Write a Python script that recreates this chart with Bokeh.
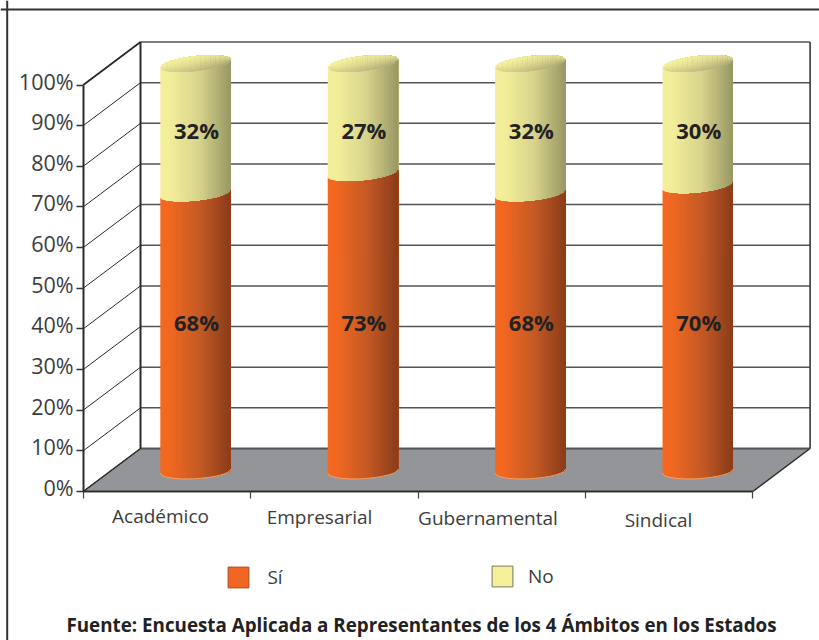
from bokeh.plotting import figure
from bokeh.models import (ColumnDataSource, Range1d, FixedTicker, Legend, LegendItem, Span)
from bokeh.core.properties import value
from bokeh.embed import file_html
from bokeh.resources import INLINE
import numpy as np

# ---------- data ----------
categories = ["Académico", "Empresarial", "Gubernamental", "Sindical"]
si_values = [68, 73, 68, 70]
no_values = [32, 27, 32, 30]
y_ticks = [0, 10, 20, 30, 40, 50, 60, 70, 80, 90, 100]
y_tick_labels = ["0%", "10%", "20%", "30%", "40%", "50%", "60%", "70%", "80%", "90%", "100%"]
series_names = ["Sí", "No"]
source_text = "Fuente: Encuesta Aplicada a Representantes de los 4 Ámbitos en los Estados"

# ---------- scale: 1 category and 1 percent, in pixels of the page ----------
W, H = 819, 640
PX_CAT, PX_PCT = 167.4, 4.065
X0_PX, Y0_PX = 82.7, 491.0
def sx(px): return (px - X0_PX) / PX_CAT
def sy(px): return (Y0_PX - px) / PX_PCT

DEPTH_X, DEPTH_Y = 57.3 / PX_CAT, 43.0 / PX_PCT      # oblique depth of the box
BAR_DX, BAR_DY = 0.171, 5.0                         # cylinder foot inside the floor
HALF_W = 35.2 / PX_CAT                               # cylinder half width
MINOR = 7.5 / PX_PCT                                 # ellipse half height
FONT = "Open Sans"
INK = "#3c3c3c"

p = figure(width=W, height=H, output_backend="svg", toolbar_location=None,
           x_range=Range1d(sx(0), sx(W)), y_range=Range1d(sy(H), sy(0)),
           min_border=0, min_border_left=0, min_border_right=0, min_border_top=0,
           min_border_bottom=0, outline_line_color=None)
p.grid.visible = False

# outer frame (runs off the right and bottom of the picture)
p.add_layout(Span(location=sx(6.7), dimension="height", line_color="#333333", line_width=2))
p.add_layout(Span(location=sy(9.0), dimension="width", line_color="#333333", line_width=2))

# floor
n = len(categories)
p.patch([0, n, n + DEPTH_X, DEPTH_X], [0, 0, DEPTH_Y, DEPTH_Y],
        fill_color="#939598", line_color="#2b2b2b", line_width=1.5)

# back-wall grid
ticks = np.array(y_ticks, dtype=float)
p.segment(x0=[DEPTH_X] * len(ticks), y0=ticks + DEPTH_Y, x1=[n + DEPTH_X] * len(ticks), y1=ticks + DEPTH_Y,
          line_color="#555555", line_width=1.5)
# side-wall grid
p.segment(x0=[0] * len(ticks), y0=ticks, x1=[DEPTH_X] * len(ticks), y1=ticks + DEPTH_Y,
          line_color="#2b2b2b", line_width=1)
p.line([0, DEPTH_X], [100, 100 + DEPTH_Y], line_color="#2b2b2b", line_width=1.8)
# back-wall verticals
p.line([DEPTH_X, DEPTH_X], [DEPTH_Y, 100 + DEPTH_Y], line_color="#2b2b2b", line_width=2)
p.line([n + DEPTH_X, n + DEPTH_X], [DEPTH_Y, 100 + DEPTH_Y], line_color="#3a3a3a", line_width=1.6)


def mix(stops, f):
    xs = [s[0] for s in stops]
    c = [np.interp(f, xs, [int(s[1][i:i + 2], 16) for s in stops]) for i in (1, 3, 5)]
    return "#%02x%02x%02x" % tuple(int(round(v)) for v in c)

ORANGE = [(0, "#f4691f"), (0.12, "#f26822"), (0.55, "#c55a24"), (1, "#8a3c1a")]
YELLOW = [(0, "#f3ef9b"), (0.15, "#f1ed99"), (0.55, "#d8d48c"), (1, "#989763")]
TOP = [(0, "#a5a270"), (0.35, "#c6c284"), (0.7, "#e4e093"), (1, "#f4f09c")]

def tilt(v):
    return (2 + 2 * v / 100) / PX_PCT

def curve(cx, v, t, s):
    """Point of the sheared ellipse at height v; s=-1 front rim, s=+1 back rim."""
    return cx + t * HALF_W, BAR_DY + v * 1.003 + tilt(v) * t + s * MINOR * np.sqrt(np.clip(1 - t * t, 0, 1))

def body(cx, v0, v1, stops, out, strips=40):
    edges = np.linspace(-1, 1, strips + 1)
    for i in range(strips):
        t = np.linspace(edges[i], 1, max(strips - i, 1) * 2 + 1)
        xb, yb = curve(cx, v0, t, -1)
        xt, yt = curve(cx, v1, t[::-1], -1)
        out["xs"].append(list(xb) + list(xt))
        out["ys"].append(list(yb) + list(yt))
        out["c"].append(mix(stops, (i + 0.5) / strips))

def top(cx, v, out, strips=28, bands=9):
    edges = np.linspace(-1, 1, strips + 1)
    for i in range(strips):
        t = np.linspace(edges[i], 1, (strips - i) + 1)
        tm = (edges[i] + edges[i + 1]) / 2
        for s0 in np.linspace(-1, 1, bands, endpoint=False):
            xl, yl = curve(cx, v, t, s0)
            xu, yu = curve(cx, v, t[::-1], 1)
            out["xs"].append(list(xl) + list(xu))
            out["ys"].append(list(yl) + list(yu))
            shade = 0.62 + 0.38 * (s0 + (1 - s0) / bands) - 0.28 * tm
            out["c"].append(mix(TOP, float(np.clip(shade, 0, 1))))

parts = {"xs": [], "ys": [], "c": []}
centers = []
for i, (a, b) in enumerate(zip(si_values, no_values)):
    cx = i + 0.5 + BAR_DX
    centers.append(cx)
    body(cx, a, a + b, YELLOW, parts)
    body(cx, 0, a, ORANGE, parts)
    top(cx, a + b, parts)
p.patches("xs", "ys", fill_color="c", line_color=None, source=ColumnDataSource(parts))

# pale rim under each cylinder
t_rim = np.linspace(-1, 1, 41)
rx, ry = [], []
for cx in centers:
    x_, y_ = curve(cx, 0, t_rim, -1)
    rx.append(list(x_)); ry.append(list(y_))
p.multi_line(rx, ry, line_color="#f7a66a", line_width=1)

# value labels
p.text(x=centers, y=[sy(321)] * n, x_offset=1, text=[f"{v}%" for v in si_values], text_align="center",
       text_baseline="middle", text_font=value(FONT), text_font_style="bold",
       text_font_size="22px", text_color="#222222")
p.text(x=centers, y=[sy(129.5)] * n, x_offset=1, text=[f"{v}%" for v in no_values], text_align="center",
       text_baseline="middle", text_font=value(FONT), text_font_style="bold",
       text_font_size="22px", text_color="#222222")

# axes at the front edge of the box
ax = p.yaxis[0]
ax.fixed_location = 0
ax.bounds = (0, 100)
ax.ticker = FixedTicker(ticks=y_ticks)
ax.major_label_overrides = {v: "" for v in y_ticks}
ax.major_tick_out = 7
ax.major_tick_in = 0
ax.minor_tick_line_color = None
ax.major_tick_line_color = "#333333"
ax.major_tick_line_width = 1.5
ax.axis_line_color = "#2b2b2b"
ax.axis_line_width = 2

bx = p.xaxis[0]
bx.fixed_location = 0
bx.bounds = (0, n)
bx.ticker = FixedTicker(ticks=list(range(n + 1)))
bx.major_label_overrides = {i: "" for i in range(n + 1)}
bx.major_tick_out = 7
bx.major_tick_in = 0
bx.minor_tick_line_color = None
bx.major_tick_line_color = "#444444"
bx.major_tick_line_width = 1.2
bx.axis_line_color = "#2b2b2b"
bx.axis_line_width = 1.5

# y tick labels sit a little above their ticks in the reference
p.text(x=[sx(73)] * len(y_ticks), y=y_ticks, y_offset=-4, text=y_tick_labels, text_align="right",
       text_baseline="middle", text_font=value(FONT), text_font_size="21.5px", text_color=INK)

# category labels (as placed, slightly uneven, in the reference)
cat_x = [sx(160), sx(319), sx(487.5), sx(658)]
cat_y = [sy(515.5), sy(516.5), sy(517.5), sy(519.5)]
p.text(x=cat_x, y=cat_y, text=categories, text_align="center", text_baseline="middle",
       text_font=value(FONT), text_font_size="19px", text_color=INK)

# legend: two keys, each placed on its own
nan = float("nan")
sw_si = p.quad(left=[nan], right=[nan], top=[nan], bottom=[nan], fill_color="#f26522", line_color="#a84a20")
sw_no = p.quad(left=[nan], right=[nan], top=[nan], bottom=[nan], fill_color="#f3ef9b", line_color="#77775a")
common = dict(glyph_width=26, glyph_height=26, padding=10, margin=0, background_fill_alpha=0,
              border_line_color=None, label_text_font=FONT, label_text_font_size="19px",
              label_text_color=INK)
p.add_layout(Legend(items=[LegendItem(label=series_names[0], renderers=[sw_si])],
                    location=(225.4, 50.5), label_standoff=16, **common), "center")
p.add_layout(Legend(items=[LegendItem(label=series_names[1], renderers=[sw_no])],
                    location=(489, 51), label_standoff=13, **common), "center")

# source line
p.text(x=[sx(421)], y=[sy(624)], text=[source_text], text_align="center", text_baseline="middle",
       text_font=value(FONT), text_font_style="bold", text_font_size="18.8px", text_color="#222222")

open("out.html", "w").write(file_html(p, INLINE))
